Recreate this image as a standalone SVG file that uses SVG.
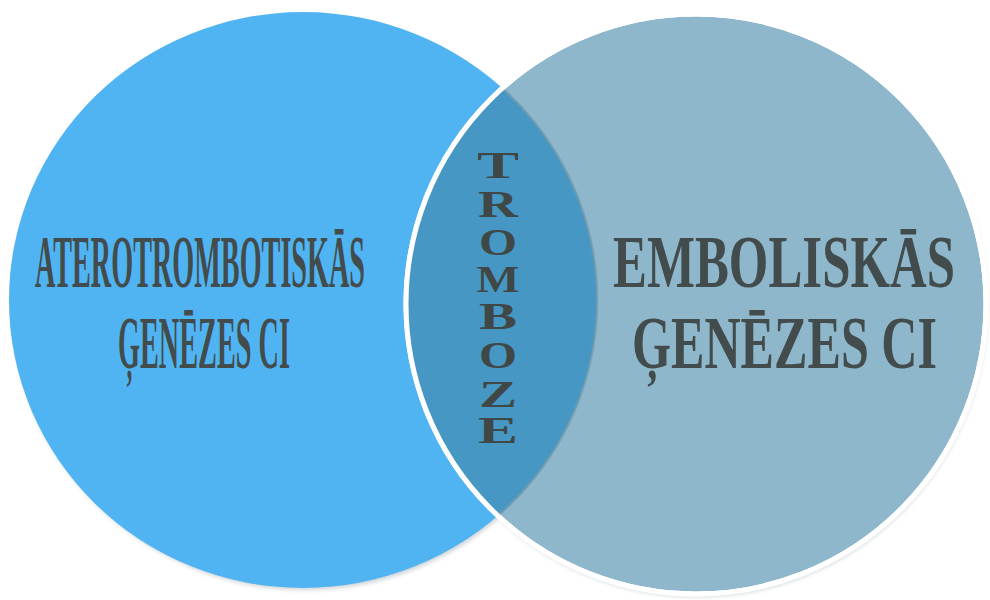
<svg xmlns="http://www.w3.org/2000/svg" width="990" height="600" viewBox="0 0 990 600">
  <defs>
    <clipPath id="leftClip">
      <ellipse cx="303" cy="300" rx="294" ry="288"/>
    </clipPath>
    <clipPath id="rightClip">
      <circle cx="696" cy="304" r="290"/>
    </clipPath>
    <filter id="soft" x="-10%" y="-10%" width="120%" height="120%">
      <feGaussianBlur stdDeviation="2"/>
    </filter>
  </defs>
  <style>
    .lbl { font-family: "Liberation Serif", "Times New Roman", serif; font-weight: bold; fill: #434c4c; }
    .vert { font-family: "Liberation Serif", "Times New Roman", serif; font-weight: bold; fill: #3f4747; font-size: 37px; text-anchor: middle; }
  </style>
  <rect width="990" height="600" fill="#ffffff"/>

  <g id="shadows" filter="url(#soft)">
    <ellipse cx="305" cy="303" rx="293" ry="287" fill="#cfd3d6"/>
    <circle cx="697" cy="307" r="290" fill="#cdd6db"/>
  </g>

  <g id="node-atero">
    <ellipse cx="303" cy="300" rx="294" ry="288" fill="#50b4f3"/>
    <text class="lbl" x="35" y="287" font-size="74" textLength="330" lengthAdjust="spacingAndGlyphs">ATEROTROMBOTISKĀS</text>
    <text class="lbl" x="118" y="368" font-size="74" textLength="172" lengthAdjust="spacingAndGlyphs">ĢENĒZES CI</text>
  </g>

  <g id="node-embol">
    <circle cx="696" cy="304" r="290" fill="#8fb7cc" stroke="#ffffff" stroke-width="5"/>
    <text class="lbl" x="613" y="287" font-size="75" textLength="342" lengthAdjust="spacingAndGlyphs">EMBOLISKĀS</text>
    <text class="lbl" x="632" y="368" font-size="75" textLength="305" lengthAdjust="spacingAndGlyphs">ĢENĒZES CI</text>
  </g>

  <g id="node-tromboze">
    <g clip-path="url(#leftClip)">
      <circle cx="696" cy="304" r="290" fill="#4797c4"/>
    </g>
    <g clip-path="url(#rightClip)">
      <ellipse cx="303" cy="300" rx="294" ry="288" fill="none" stroke="#6d98ad" stroke-width="2.5" opacity="0.7"/>
    </g>
    <circle cx="696" cy="304" r="290" fill="none" stroke="#ffffff" stroke-width="5"/>
    <text class="vert" x="498" y="178" textLength="42" lengthAdjust="spacingAndGlyphs">T</text>
    <text class="vert" x="498" y="217" textLength="40" lengthAdjust="spacingAndGlyphs">R</text>
    <text class="vert" x="498" y="255" textLength="38" lengthAdjust="spacingAndGlyphs">O</text>
    <text class="vert" x="498" y="292" textLength="43" lengthAdjust="spacingAndGlyphs">M</text>
    <text class="vert" x="498" y="329" textLength="38" lengthAdjust="spacingAndGlyphs">B</text>
    <text class="vert" x="498" y="368" textLength="38" lengthAdjust="spacingAndGlyphs">O</text>
    <text class="vert" x="498" y="407" textLength="38" lengthAdjust="spacingAndGlyphs">Z</text>
    <text class="vert" x="498" y="443" textLength="40" lengthAdjust="spacingAndGlyphs">E</text>
  </g>

  <g id="connectors"></g>
</svg>
